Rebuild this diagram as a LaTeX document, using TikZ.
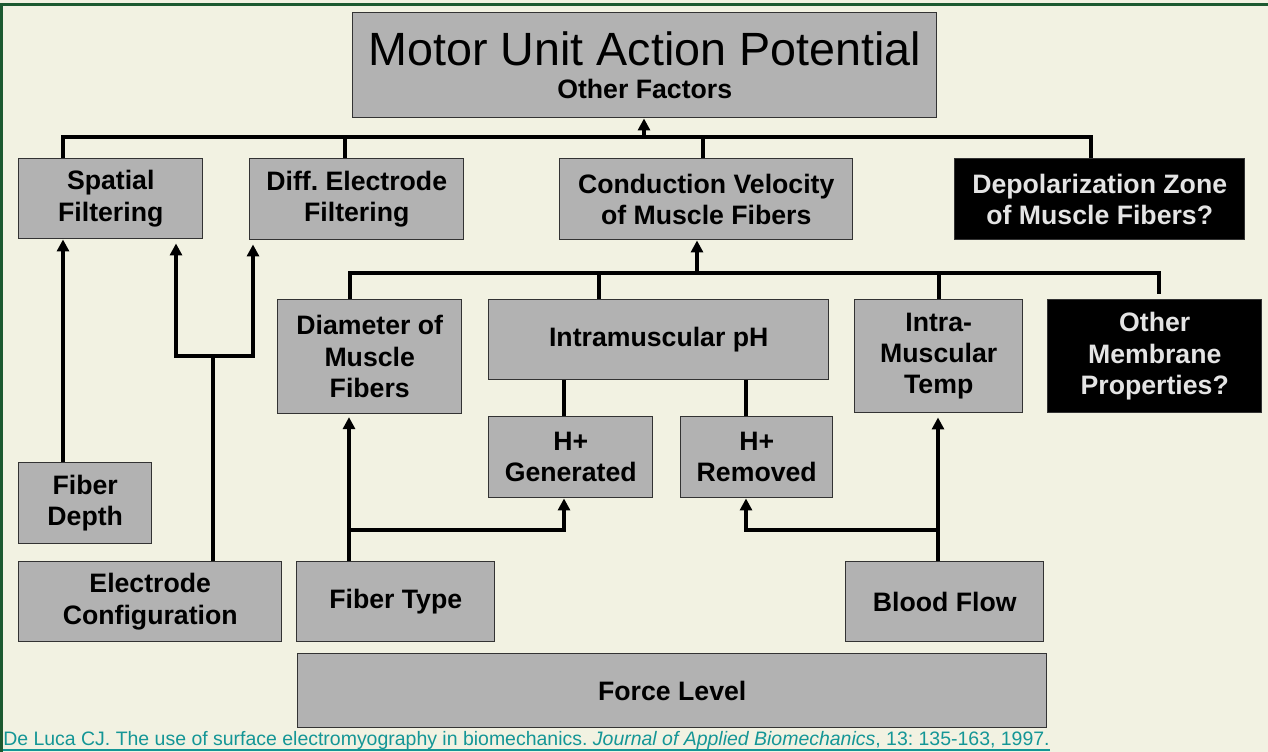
\documentclass[tikz,border=0pt]{standalone}
\usepackage{fontspec}
\setmainfont{Liberation Sans}
\usetikzlibrary{arrows.meta,positioning,calc}
\definecolor{paper}{RGB}{242,242,226}
\definecolor{frame}{RGB}{28,90,48}
\definecolor{boxgray}{RGB}{178,178,178}
\definecolor{citecol}{RGB}{20,150,150}
\definecolor{pale}{RGB}{228,228,228}

\begin{document}
\frenchspacing
\begin{tikzpicture}[
		x=0.75pt, y=-0.75pt,
		wh/.style 2 args={minimum width=#1*0.75pt, minimum height=#2*0.75pt},
		box/.style={
			draw=black!80,
			line width=1.1pt,
			fill=boxgray,
			anchor=north west,
			align=center,
			inner sep=0pt,
			font=\bfseries\fontsize{20}{23.5}\selectfont
		},
		dark/.style={box, fill=black, text=pale},
		link/.style={line width=3pt},
		arr/.style={link, -{Triangle[width=9pt,length=9pt]}}
		]
		
		\useasboundingbox (0,0) rectangle (1268,752);
		\fill[paper] (0,0) rectangle (1268,752);
		\draw[frame, line width=2.25pt] (1268,4.5) -- (1.5,4.5) -- (1.5,752);
		
		\node[box, wh={584}{105}, font=\fontsize{35}{40}\selectfont] (title) at (352,12)
		{Motor Unit Action Potential\\[-15pt]{\bfseries\fontsize{20}{23.5}\selectfont Other Factors}};
		
		\node[box, wh={184}{80}] (spat) at (18,158) {Spatial\\Filtering};
		\node[box, wh={214}{81}] (diff) at (249,158) {Diff. Electrode\\Filtering};
		\node[box, wh={293}{81}] (cond) at (559,158) {Conduction Velocity\\of Muscle Fibers};
		\node[dark, wh={290}{81}] (dep) at (954,158) {Depolarization Zone\\of Muscle Fibers?};
		
		\node[box, wh={184}{114}] (diam) at (277,299) {Diameter of\\Muscle\\Fibers};
		\node[box, wh={340}{80}] (ph) at (488,299) {Intramuscular pH};
		\node[box, wh={168}{113}] (temp) at (854,299) {Intra-\\Muscular\\Temp};
		\node[dark, wh={214}{113}] (oth) at (1047,299) {Other\\Membrane\\Properties?};
		
		\node[box, wh={164}{81}] (hgen) at (488,416) {H+\\Generated};
		\node[box, wh={152}{81}] (hrem) at (680,416) {H+\\Removed};
		\node[box, wh={133}{81}] (fd) at (18,462) {Fiber\\Depth};
		
		\node[box, wh={263}{80}] (ec) at (18,561) {Electrode\\Configuration};
		\node[box, wh={198}{80}] (ft) at (296,561) {Fiber Type};
		\node[box, wh={198}{80}] (bf) at (845,561) {Blood Flow};
		\node[box, wh={749}{74}] (force) at (297,653) {Force Level};
		
		\node[anchor=base west, inner sep=0pt, text=citecol, font=\fontsize{14.6}{17}\selectfont] (ref) at (3,745)
		{De Luca CJ. The use of surface electromyography in biomechanics. \textit{Journal of Applied Biomechanics}, 13: 135-163, 1997.};
		\draw[citecol, line width=1.5pt] ([yshift=-3.5pt]ref.base west) -- ([yshift=-3.5pt]ref.base east);
		
		% top level
		\coordinate (u1) at (63,137);
		\coordinate (u2) at (345,137);
		\coordinate (u3) at (644,137);
		\coordinate (u4) at (703,137);
		\coordinate (u5) at (1091,137);
		\draw[link] (spat.north -| u1) -- (u1) -- (u5) -- (dep.north -| u5);
		\draw[link] (u2) -- (diff.north -| u2);
		\draw[link] (u4) -- (cond.north -| u4);
		\draw[arr] (u3) -- (title.south -| u3);
		
		% conduction velocity level
		\coordinate (v1) at (350,273);
		\coordinate (v2) at (599,273);
		\coordinate (v3) at (697,273);
		\coordinate (v4) at (939,273);
		\coordinate (v5) at (1159,273);
		\draw[link, shorten >=3.5pt] (diam.north -| v1) -- (v1) -- (v5) -- (oth.north -| v5);
		\draw[link] (v2) -- (ph.north -| v2);
		\draw[link] (v4) -- (temp.north -| v4);
		\draw[arr] (v3) -- (cond.south -| v3);
		
		% pH
		\coordinate (w0) at (349,530);
		\coordinate (w1) at (564,530);
		\coordinate (w2) at (746,530);
		\coordinate (w3) at (938,530);
		\draw[link] (ph.south -| w1) -- (hgen.north -| w1);
		\draw[link] (ph.south -| w2) -- (hrem.north -| w2);
		
		% fiber type, blood flow
		\draw[arr, shorten >=2pt] (ft.north -| w0) -- (diam.south -| w0);
		\draw[arr] (w0) -- (w1) -- (hgen.south -| w1);
		\draw[arr, shorten >=3pt] (bf.north -| w3) -- (temp.south -| w3);
		\draw[arr] (w3) -- (w2) -- (hrem.south -| w2);
		
		% electrode configuration, fiber depth
		\coordinate (e1) at (213,356);
		\coordinate (e2) at (176,356);
		\coordinate (e3) at (253,356);
		\draw[link] (ec.north -| e1) -- (e1);
		\draw[arr, shorten >=3pt] (e1) -- (e2) -- (spat.south -| e2);
		\draw[arr, shorten >=3pt] (e1) -- (e3) -- (diff.south -| e3);
		\draw[arr] (fd.north -| u1) -- (spat.south -| u1);
		
	\end{tikzpicture}
\end{document}
